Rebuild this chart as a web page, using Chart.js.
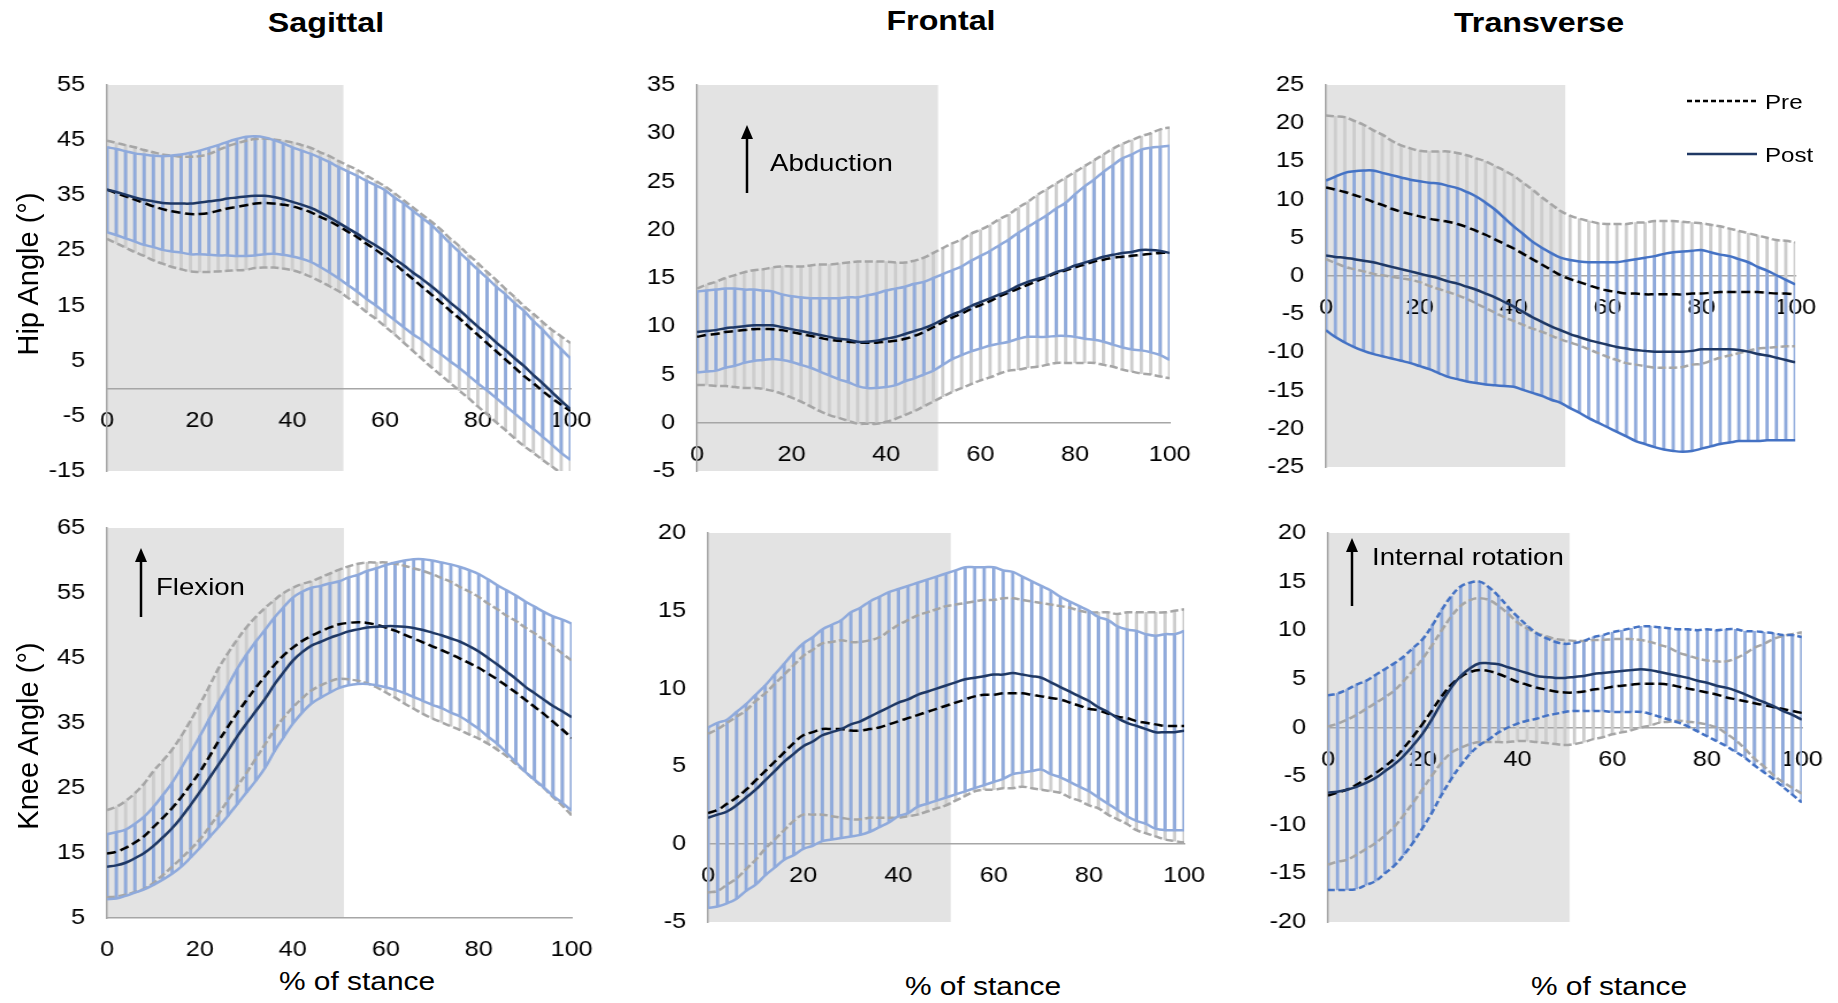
<!DOCTYPE html>
<html>
<head>
<meta charset="utf-8">
<script src="https://cdn.jsdelivr.net/npm/chart.js@4.4.0/dist/chart.umd.min.js"></script>
<style>
  body { margin: 0; background: #fff; width: 1838px; height: 1003px; position: relative; overflow: hidden;
         font-family: "Liberation Sans", Arial, sans-serif; }
  canvas { position: absolute; transform-origin: 0 0; }
  .t { position: absolute; white-space: nowrap; color: #000; line-height: 1; transform: translate(-50%, -50%) scaleX(1.15); }
  .l { position: absolute; white-space: nowrap; color: #000; line-height: 1; transform-origin: 0 50%; transform: translate(0, -50%) scaleX(1.15); }
  .title { font-weight: bold; font-size: 28px; }
  .ytitle { font-size: 29px; transform: translate(-50%, -50%) rotate(-90deg); }
  .xtitle { font-size: 26px; }
  .note { font-size: 24px; }
  .leg { font-size: 21px; }
  svg { position: absolute; left: 0; top: 0; pointer-events: none; }
</style>
</head>
<body>

<div class="t title" style="left:326px;top:23px">Sagittal</div>
<div class="t title" style="left:941px;top:21px">Frontal</div>
<div class="t title" style="left:1539px;top:23px">Transverse</div>

<div class="t ytitle" style="left:28px;top:274px">Hip Angle (°)</div>
<div class="t ytitle" style="left:28px;top:736px">Knee Angle (°)</div>

<div class="t xtitle" style="left:357px;top:981px">% of stance</div>
<div class="t xtitle" style="left:983px;top:986px">% of stance</div>
<div class="t xtitle" style="left:1609px;top:986px">% of stance</div>

<div class="l note" style="left:770px;top:163px">Abduction</div>
<div class="l note" style="left:156px;top:587px">Flexion</div>
<div class="l note" style="left:1372px;top:557px">Internal rotation</div>

<div class="l leg" style="left:1765px;top:101px">Pre</div>
<div class="l leg" style="left:1765px;top:154px">Post</div>

<svg width="1838" height="1003">
  <line x1="747" y1="193" x2="747" y2="136" stroke="#000" stroke-width="2.5"/>
  <polygon points="747,125 741,139 753,139" fill="#000"/>
  <line x1="141" y1="617" x2="141" y2="559" stroke="#000" stroke-width="2.5"/>
  <polygon points="141,548 135,562 147,562" fill="#000"/>
  <line x1="1352" y1="606" x2="1352" y2="549" stroke="#000" stroke-width="2.5"/>
  <polygon points="1352,538 1346,552 1358,552" fill="#000"/>
  <line x1="1687" y1="101" x2="1757" y2="101" stroke="#000" stroke-width="2.5" stroke-dasharray="5,3"/>
  <line x1="1687" y1="154" x2="1757" y2="154" stroke="#1f3864" stroke-width="2.5"/>
</svg>

<script>
// % of stance
const stance = [0,2,4,6,8,10,12,14,16,18,20,22,24,26,28,30,32,34,36,38,40,42,44,46,48,50,
                52,54,56,58,60,62,64,66,68,70,72,74,76,78,80,82,84,86,88,90,92,94,96,98,100];
const xTicks = [0, 20, 40, 60, 80, 100];
const SHADE_END = 51;

// hip sagittal
const hipSagTicks = [-15, -5, 5, 15, 25, 35, 45, 55];
const hipSagPreMean = [36.0,35.4,34.8,34.2,33.6,33.0,32.5,32.1,31.8,31.6,31.6,31.8,32.2,32.6,32.9,33.2,33.5,33.6,33.5,33.3,33.0,32.5,31.9,31.1,30.3,29.4,28.4,27.4,26.2,25.1,23.9,22.6,21.2,19.8,18.4,17.0,15.6,14.1,12.7,11.2,9.7,8.2,6.7,5.2,3.7,2.2,0.9,-0.5,-1.8,-3.0,-4.1];
const hipSagPreSD = [8.9,9.1,9.3,9.5,9.6,9.8,9.9,10.1,10.2,10.4,10.5,10.7,11.0,11.3,11.5,11.7,11.7,11.7,11.6,11.6,11.6,11.6,11.7,11.7,11.8,11.8,12.0,12.2,12.4,12.5,12.7,12.8,12.9,13.0,13.1,13.2,13.2,13.1,13.1,13.0,13.0,12.9,12.9,12.8,12.8,12.7,12.6,12.5,12.4,12.4,12.3];
const hipSagPostMean = [36.0,35.6,35.1,34.6,34.2,33.9,33.6,33.5,33.5,33.5,33.7,33.9,34.1,34.4,34.6,34.8,34.9,34.9,34.7,34.3,33.8,33.3,32.7,31.9,31.0,30.0,29.0,28.0,26.9,25.9,24.8,23.5,22.3,21.0,19.8,18.5,17.1,15.6,14.2,12.7,11.2,9.8,8.3,6.9,5.4,4.0,2.4,0.9,-0.7,-2.3,-3.8];
const hipSagPostSD = [7.7,7.8,7.9,8.0,8.2,8.3,8.5,8.7,8.9,9.2,9.4,9.7,10.0,10.3,10.6,10.8,10.8,10.6,10.3,10.1,9.9,9.8,9.8,9.9,10.0,10.1,10.3,10.5,10.7,10.9,11.1,11.1,11.2,11.2,11.1,11.1,10.9,10.7,10.5,10.4,10.3,10.2,10.1,10.1,10.0,10.0,9.8,9.7,9.5,9.4,9.2];

// hip frontal
const hipFroTicks = [-5, 0, 5, 10, 15, 20, 25, 30, 35];
const hipFroPreMean = [8.9,9.1,9.2,9.4,9.5,9.6,9.7,9.7,9.7,9.6,9.4,9.2,9.0,8.8,8.6,8.5,8.4,8.3,8.3,8.3,8.4,8.5,8.7,9.0,9.4,9.9,10.4,10.9,11.3,11.8,12.2,12.6,13.1,13.5,13.9,14.3,14.7,15.1,15.5,15.8,16.1,16.4,16.7,16.9,17.1,17.2,17.3,17.4,17.5,17.6,17.6];
const hipFroPreSD = [5.0,5.2,5.4,5.6,5.8,6.0,6.1,6.2,6.4,6.6,6.8,7.0,7.3,7.6,7.8,8.0,8.2,8.4,8.4,8.4,8.3,8.1,7.9,7.8,7.7,7.7,7.7,7.7,7.7,7.8,7.8,7.9,8.0,8.1,8.4,8.6,8.9,9.1,9.3,9.6,9.9,10.2,10.5,10.9,11.3,11.7,12.0,12.3,12.5,12.8,13.0];
const hipFroPostMean = [9.4,9.5,9.6,9.8,9.9,10.0,10.1,10.1,10.1,9.9,9.7,9.5,9.3,9.1,8.9,8.7,8.6,8.4,8.4,8.5,8.7,8.9,9.2,9.5,9.8,10.2,10.7,11.2,11.6,12.1,12.5,12.9,13.3,13.7,14.2,14.6,14.9,15.2,15.6,15.9,16.3,16.6,16.9,17.2,17.4,17.6,17.7,17.9,17.9,17.8,17.6];
const hipFroPostSD = [4.2,4.2,4.2,4.1,4.0,3.8,3.7,3.6,3.5,3.4,3.4,3.5,3.6,3.8,4.0,4.2,4.4,4.6,4.8,4.9,5.0,5.0,4.9,4.9,4.8,4.8,4.7,4.6,4.6,4.7,4.8,4.9,5.1,5.3,5.5,5.7,6.0,6.3,6.6,6.9,7.4,7.9,8.3,8.8,9.3,9.8,10.1,10.4,10.6,10.8,11.1];

// hip transverse
const hipTraTicks = [-25, -20, -15, -10, -5, 0, 5, 10, 15, 20, 25];
const hipTraPreMean = [11.6,11.3,11.0,10.6,10.2,9.7,9.3,8.8,8.4,8.1,7.8,7.5,7.3,7.1,6.8,6.4,5.9,5.4,4.8,4.2,3.6,2.9,2.2,1.5,0.8,0.1,-0.4,-0.8,-1.2,-1.6,-1.9,-2.1,-2.3,-2.3,-2.4,-2.4,-2.4,-2.4,-2.4,-2.3,-2.3,-2.2,-2.1,-2.1,-2.1,-2.1,-2.1,-2.2,-2.3,-2.3,-2.4];
const hipTraPreSD = [9.4,9.6,9.8,9.7,9.6,9.4,9.2,8.9,8.7,8.6,8.6,8.8,9.0,9.2,9.3,9.4,9.5,9.6,9.6,9.6,9.5,9.3,9.1,8.8,8.6,8.4,8.3,8.3,8.4,8.5,8.7,8.9,9.1,9.3,9.4,9.6,9.6,9.6,9.5,9.3,9.2,8.9,8.6,8.3,8.0,7.7,7.4,7.2,7.0,6.9,6.8];
const hipTraPostMean = [2.7,2.5,2.4,2.2,2.0,1.8,1.5,1.2,0.9,0.6,0.3,0.0,-0.3,-0.7,-1.0,-1.4,-1.8,-2.3,-2.8,-3.4,-4.0,-4.7,-5.4,-6.0,-6.6,-7.1,-7.6,-8.0,-8.4,-8.7,-9.0,-9.3,-9.5,-9.7,-9.8,-9.9,-9.9,-9.9,-9.9,-9.8,-9.6,-9.6,-9.6,-9.6,-9.7,-9.9,-10.2,-10.4,-10.7,-11.0,-11.3];
const hipTraPostSD = [9.8,10.5,11.1,11.5,11.8,12.0,12.0,12.0,12.0,12.0,12.1,12.2,12.4,12.5,12.5,12.4,12.2,11.9,11.5,11.0,10.5,10.2,9.9,9.7,9.6,9.5,9.7,9.9,10.2,10.5,10.8,11.1,11.5,11.9,12.2,12.5,12.8,13.0,13.1,13.1,13.0,12.7,12.4,12.2,11.9,11.7,11.4,11.1,10.8,10.5,10.2];

// knee sagittal
const kneeSagTicks = [5, 15, 25, 35, 45, 55, 65];
const kneeSagPreMean = [14.9,15.2,15.8,16.6,17.6,19.0,20.4,21.9,23.6,25.5,27.5,29.8,32.2,34.4,36.5,38.5,40.4,42.2,43.9,45.4,46.6,47.6,48.4,49.1,49.7,50.2,50.4,50.5,50.4,50.1,49.7,49.2,48.6,48.0,47.4,46.8,46.2,45.6,44.9,44.2,43.5,42.6,41.7,40.7,39.7,38.6,37.5,36.4,35.2,34.0,32.7];
const kneeSagPreSD = [6.7,6.9,7.2,7.6,8.1,8.6,8.8,9.0,9.4,9.9,10.4,10.8,11.2,11.3,11.3,11.2,10.9,10.5,10.0,9.6,9.2,8.8,8.4,8.3,8.3,8.4,8.7,9.0,9.3,9.6,10.0,10.3,10.6,10.8,11.0,11.1,11.1,11.1,11.0,11.0,10.9,10.8,10.8,10.8,11.0,11.1,11.3,11.4,11.6,11.7,11.9];
const kneeSagPostMean = [12.9,13.1,13.5,14.2,15.0,16.1,17.4,18.8,20.5,22.4,24.4,26.5,28.6,30.7,32.9,34.9,36.8,38.7,40.9,42.8,44.6,45.9,46.9,47.5,48.1,48.6,49.1,49.4,49.7,49.8,49.9,49.9,49.8,49.6,49.3,48.9,48.5,48.0,47.5,46.8,46.0,45.0,44.0,42.9,41.8,40.6,39.6,38.6,37.6,36.8,35.9];
const kneeSagPostSD = [5.0,5.1,5.1,5.3,5.6,6.0,6.5,7.0,7.6,8.1,8.6,9.1,9.6,10.0,10.4,10.6,10.7,10.6,10.3,10.0,9.7,9.3,8.9,8.6,8.4,8.2,8.3,8.4,8.7,9.0,9.4,9.8,10.2,10.6,10.9,11.1,11.2,11.4,11.5,11.7,11.9,12.1,12.2,12.5,12.8,13.1,13.3,13.5,13.8,14.1,14.4];

// knee frontal
const kneeFroTicks = [-5, 0, 5, 10, 15, 20];
const kneeFroPreMean = [2.0,2.2,2.6,3.0,3.5,4.1,4.7,5.3,5.9,6.5,7.0,7.2,7.4,7.4,7.4,7.3,7.3,7.4,7.5,7.7,7.9,8.1,8.3,8.5,8.7,8.9,9.1,9.3,9.5,9.6,9.6,9.7,9.7,9.7,9.6,9.5,9.4,9.3,9.1,8.9,8.7,8.6,8.4,8.2,8.1,7.9,7.8,7.7,7.6,7.6,7.6];
const kneeFroPreSD = [5.1,5.2,5.2,5.2,5.1,5.1,5.0,5.0,5.0,5.0,5.1,5.3,5.5,5.6,5.7,5.7,5.7,5.7,5.8,6.0,6.2,6.3,6.4,6.4,6.4,6.4,6.3,6.2,6.1,6.1,6.1,6.1,6.1,6.0,6.0,6.0,6.0,6.0,6.1,6.1,6.2,6.3,6.5,6.6,6.8,7.0,7.1,7.2,7.3,7.4,7.5];
const kneeFroPostMean = [1.7,1.9,2.1,2.5,3.0,3.5,4.1,4.7,5.3,5.8,6.3,6.6,7.0,7.2,7.4,7.7,7.9,8.2,8.5,8.8,9.1,9.3,9.6,9.8,10.0,10.2,10.4,10.6,10.7,10.8,10.9,10.9,11.0,10.9,10.8,10.7,10.4,10.1,9.8,9.5,9.2,8.8,8.5,8.1,7.8,7.6,7.4,7.2,7.2,7.2,7.3];
const kneeFroPostSD = [5.8,5.9,5.9,6.0,6.0,6.1,6.1,6.2,6.3,6.5,6.6,6.7,6.8,6.9,7.0,7.2,7.3,7.4,7.4,7.4,7.3,7.3,7.2,7.2,7.2,7.2,7.2,7.2,7.1,7.0,6.9,6.7,6.5,6.3,6.1,5.9,5.9,5.8,5.8,5.8,5.8,5.8,5.9,5.9,6.0,6.1,6.1,6.2,6.3,6.3,6.4];

// knee transverse
const kneeTraTicks = [-20, -15, -10, -5, 0, 5, 10, 15, 20];
const kneeTraPreMean = [-7.0,-6.7,-6.4,-5.9,-5.3,-4.7,-4.0,-3.2,-2.1,-0.9,0.4,1.8,3.2,4.4,5.2,5.7,5.9,5.8,5.5,5.1,4.7,4.4,4.1,3.9,3.7,3.6,3.6,3.7,3.9,4.0,4.2,4.3,4.4,4.5,4.5,4.5,4.4,4.2,4.0,3.8,3.6,3.4,3.1,2.9,2.7,2.5,2.3,2.1,1.9,1.7,1.5];
const kneeTraPreSD = [7.1,7.1,7.2,7.2,7.2,7.2,7.1,7.0,6.9,6.8,6.7,6.7,6.8,7.0,7.3,7.4,7.4,7.3,7.0,6.6,6.1,5.8,5.6,5.5,5.4,5.4,5.3,5.2,5.1,5.0,4.9,4.8,4.7,4.5,4.3,4.0,3.8,3.5,3.4,3.3,3.3,3.4,3.7,4.2,4.9,5.7,6.3,7.0,7.5,7.9,8.3];
const kneeTraPostMean = [-6.7,-6.6,-6.4,-6.1,-5.7,-5.2,-4.5,-3.8,-2.9,-1.8,-0.6,0.9,2.6,4.1,5.3,6.1,6.6,6.6,6.5,6.2,5.9,5.6,5.3,5.2,5.1,5.1,5.2,5.3,5.5,5.6,5.7,5.8,5.9,6.0,5.9,5.7,5.5,5.3,5.1,4.8,4.6,4.3,4.1,3.8,3.4,3.0,2.6,2.2,1.7,1.3,0.8];
const kneeTraPostSD = [10.0,10.1,10.3,10.5,10.5,10.6,10.5,10.4,10.2,10.0,9.7,9.6,9.5,9.4,9.2,8.8,8.4,7.8,7.0,6.2,5.5,4.9,4.4,4.0,3.7,3.5,3.5,3.6,3.8,3.9,4.1,4.2,4.3,4.4,4.5,4.6,4.7,4.8,5.0,5.2,5.5,5.7,6.0,6.3,6.5,6.9,7.2,7.5,7.8,8.2,8.5];

Chart.defaults.font.family = '"Liberation Sans", Arial, sans-serif';

// the source figure is slightly stretched sideways
const STRETCH = 1.15;

// plot boxes [left, top, right, bottom] in page pixels
const panels = [
  { box: [107, 85, 571, 471],   yMin: -15, yMax: 55, ticks: hipSagTicks, atZero: true,
    pre: [hipSagPreMean, hipSagPreSD], post: [hipSagPostMean, hipSagPostSD], edge: '#8faadc', edgeDash: [] },
  { box: [697, 85, 1170, 471],  yMin: -5, yMax: 35, ticks: hipFroTicks, atZero: true,
    pre: [hipFroPreMean, hipFroPreSD], post: [hipFroPostMean, hipFroPostSD], edge: '#8faadc', edgeDash: [] },
  { box: [1326, 85, 1795, 467], yMin: -25, yMax: 25, ticks: hipTraTicks, atZero: true,
    pre: [hipTraPreMean, hipTraPreSD], post: [hipTraPostMean, hipTraPostSD], edge: '#4472c4', edgeDash: [] },
  { box: [107, 528, 572, 918],  yMin: 5, yMax: 65, ticks: kneeSagTicks, atZero: false,
    pre: [kneeSagPreMean, kneeSagPreSD], post: [kneeSagPostMean, kneeSagPostSD], edge: '#8faadc', edgeDash: [] },
  { box: [708, 533, 1184, 922], yMin: -5, yMax: 20, ticks: kneeFroTicks, atZero: true,
    pre: [kneeFroPreMean, kneeFroPreSD], post: [kneeFroPostMean, kneeFroPostSD], edge: '#8faadc', edgeDash: [] },
  { box: [1328, 533, 1802, 922], yMin: -20, yMax: 20, ticks: kneeTraTicks, atZero: true,
    pre: [kneeTraPreMean, kneeTraPreSD], post: [kneeTraPostMean, kneeTraPostSD], edge: '#4472c4', edgeDash: [6, 3] }
];

function pts(mean, sd, sign) {
  return stance.map((x, i) => ({ x: x, y: mean[i] + sign * sd[i] }));
}
function errBars(mean, sd) {
  return stance.map((x, i) => ({ x: x, y: [mean[i] - sd[i], mean[i] + sd[i]] }));
}

const shade = {
  id: 'shade',
  beforeDraw(chart) {
    const { ctx, chartArea, scales } = chart;
    const x0 = scales.x.getPixelForValue(0);
    const x1 = scales.x.getPixelForValue(SHADE_END);
    ctx.save();
    ctx.fillStyle = '#e3e3e3';
    ctx.fillRect(x0, chartArea.top, x1 - x0, chartArea.bottom - chartArea.top);
    ctx.restore();
  }
};

function lineSet(data, color, dash, order) {
  return { type: 'line', data: data, borderColor: color, borderDash: dash, borderWidth: 2.5,
           pointRadius: 0, tension: 0.4, fill: false, order: order };
}

function makePanel(p) {
  const padL = 80, padT = 20, padR = 40, padB = 45;
  const [l, t, r, b] = p.box;
  const cv = document.createElement('canvas');
  cv.width = Math.round((r - l) / STRETCH) + padL + padR;
  cv.height = b - t + padT + padB;
  cv.style.left = (l - padL * STRETCH) + 'px';
  cv.style.top = (t - padT) + 'px';
  cv.style.transform = 'scaleX(' + STRETCH + ')';
  document.body.insertBefore(cv, document.body.firstChild);

  const [preM, preS] = p.pre;
  const [postM, postS] = p.post;

  new Chart(cv, {
    type: 'line',
    data: {
      datasets: [
        { type: 'bar', data: errBars(preM, preS), backgroundColor: '#cdcdcd', barThickness: 2.2, grouped: false, order: 5 },
        { type: 'bar', data: errBars(postM, postS), backgroundColor: '#8faadc', barThickness: 2.2, grouped: false, order: 4 },
        lineSet(pts(preM, preS, 1), '#a6a6a6', [7, 3], 3),
        lineSet(pts(preM, preS, -1), '#a6a6a6', [7, 3], 3),
        lineSet(pts(postM, postS, 1), p.edge, p.edgeDash, 2),
        lineSet(pts(postM, postS, -1), p.edge, p.edgeDash, 2),
        lineSet(pts(preM, preS, 0), '#000000', [8, 4], 1),
        lineSet(pts(postM, postS, 0), '#1f3864', [], 0)
      ]
    },
    options: {
      responsive: false,
      animation: false,
      events: [],
      layout: { padding: { left: 0, top: padT, right: padR, bottom: p.atZero ? padB : 0 } },
      plugins: { legend: { display: false }, tooltip: { enabled: false } },
      scales: {
        x: {
          type: 'linear', min: 0, max: 100, offset: false,
          position: p.atZero ? { y: 0 } : 'bottom',
          grid: { display: false, drawTicks: false },
          border: { display: true, color: '#a6a6a6', width: 1.5 },
          ticks: { color: '#000', font: { size: 22 }, padding: 19, maxRotation: 0, autoSkip: false },
          afterBuildTicks: s => { s.ticks = xTicks.map(v => ({ value: v })); },
          afterFit: s => {
            s.height = p.atZero ? 0 : padB;
            s.paddingLeft = 0; s.paddingRight = 0; s.paddingTop = 0; s.paddingBottom = 0;
          }
        },
        y: {
          type: 'linear', min: p.yMin, max: p.yMax, position: 'left',
          grid: { display: false, drawTicks: false },
          border: { display: true, color: '#a6a6a6', width: 1.5 },
          ticks: { color: '#000', font: { size: 22 }, padding: 19 },
          afterBuildTicks: s => { s.ticks = p.ticks.map(v => ({ value: v })); },
          afterFit: s => {
            s.width = padL;
            s.paddingLeft = 0; s.paddingRight = 0; s.paddingTop = 0; s.paddingBottom = 0;
          }
        }
      }
    },
    plugins: [shade]
  });
}

panels.forEach(makePanel);
</script>
</body>
</html>
